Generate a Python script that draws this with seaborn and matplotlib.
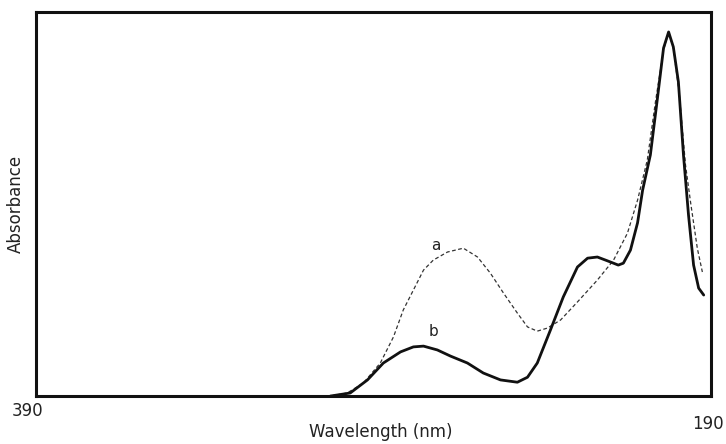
import pandas as pd
import seaborn as sns
import matplotlib.pyplot as plt
from matplotlib.transforms import ScaledTranslation

# spectrum a (dashed) and b (solid)
wl_a = [302.9, 297.9, 293.1, 288.1, 284.2, 281.3, 278.3, 275.3, 272.4, 268.2,
        263.5, 259.3, 255.5, 251.6, 247.5, 244.5, 241.6, 238.6, 234.7, 229.7,
        223.8, 219.0, 214.9, 211.9, 209.0, 206.6, 204.2, 202.7, 201.3, 199.5,
        197.7, 196.2, 194.2, 192.7]
abs_a = [0.000, 0.008, 0.034, 0.086, 0.154, 0.224, 0.276, 0.328, 0.354, 0.375,
         0.385, 0.362, 0.320, 0.268, 0.216, 0.180, 0.169, 0.177, 0.198, 0.245,
         0.302, 0.354, 0.424, 0.510, 0.615, 0.766, 0.901, 0.948, 0.906, 0.784,
         0.602, 0.505, 0.385, 0.323]

wl_b = [302.9, 297.0, 291.9, 287.2, 282.1, 278.3, 275.3, 271.2, 267.3, 262.3,
        257.6, 252.5, 247.5, 244.5, 241.6, 237.7, 233.9, 229.7, 226.7, 223.8,
        220.8, 217.6, 216.1, 214.0, 211.9, 210.4, 208.1, 206.0, 204.2, 202.7,
        201.3, 199.8, 198.3, 196.8, 195.3, 193.8, 192.3]
abs_b = [0.000, 0.008, 0.042, 0.086, 0.115, 0.128, 0.130, 0.120, 0.104, 0.086,
         0.060, 0.042, 0.036, 0.049, 0.086, 0.172, 0.258, 0.336, 0.359, 0.362,
         0.352, 0.341, 0.346, 0.380, 0.451, 0.536, 0.628, 0.776, 0.906, 0.948,
         0.909, 0.818, 0.628, 0.471, 0.341, 0.281, 0.263]

df_a = pd.DataFrame({"wl": wl_a, "A": abs_a})
df_b = pd.DataFrame({"wl": wl_b, "A": abs_b})

sns.set_style("white")
plt.rcParams["font.family"] = ["DejaVu Sans"]

fig = plt.figure(figsize=(7.26, 4.44), dpi=100)
ax = fig.add_axes([0.05, 0.108, 0.93, 0.865])

sns.lineplot(data=df_a, x="wl", y="A", ax=ax, sort=False, estimator=None,
             color="#333333", lw=0.9, linestyle=(0, (3, 2)))
sns.lineplot(data=df_b, x="wl", y="A", ax=ax, sort=False, estimator=None,
             color="#111111", lw=2.0, solid_joinstyle="round", solid_capstyle="round")

ax.text(271.8, 0.393, "a", fontsize=11, ha="center", va="center", color="#222222")
ax.text(272.4, 0.167, "b", fontsize=11, ha="center", va="center", color="#222222")

ax.set_xlim(390, 190)
ax.set_ylim(0, 1.0)
ax.set_yticks([])
ax.set_xticks([390, 190])
ax.set_xticklabels(["390", "190"], fontsize=12, color="#222222")
ax.tick_params(axis="x", length=0, pad=4)

for s in ax.spines.values():
    s.set_linewidth(2.2)
    s.set_color("#111111")

ax.set_xlabel("Wavelength (nm)", fontsize=12, color="#222222")
ax.set_ylabel("Absorbance", fontsize=12, labelpad=8, color="#222222")
ax.xaxis.set_label_coords(0.51, -0.07)

# nudge the two end labels as on the original
labs = ax.get_xticklabels()
labs[0].set_transform(labs[0].get_transform() + ScaledTranslation(-0.09, 0, fig.dpi_scale_trans))
labs[1].set_transform(labs[1].get_transform() + ScaledTranslation(-0.04, -0.13, fig.dpi_scale_trans))

fig.savefig("out.png", dpi=100)
